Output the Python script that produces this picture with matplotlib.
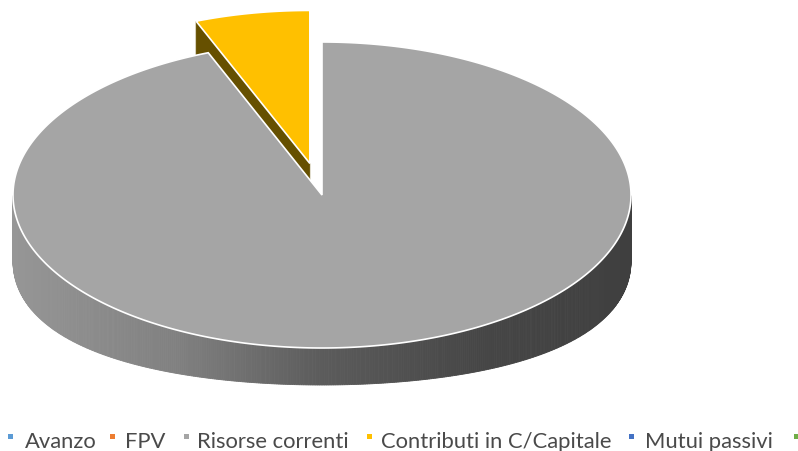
import numpy as np
import matplotlib.pyplot as plt
from matplotlib.patches import Polygon
from matplotlib import font_manager

categorie = ["Avanzo", "FPV", "Risorse correnti", "Contributi in C/Capitale", "Mutui passivi", ""]
valori = [0, 0, 94.0, 6.0, 0, 0]
colori = ["#5B9BD5", "#ED7D31", "#A5A5A5", "#FFC000", "#4472C4", "#70AD47"]
scuri = ["#2E4E6B", "#773E18", "#A5A5A5", "#665000", "#223962", "#385723"]
esploso = [0, 0, 0, 0.21, 0, 0]

nomi = set(f.name for f in font_manager.fontManager.ttflist)
font = "Lato" if "Lato" in nomi else "DejaVu Sans"

W, H = 798, 452
cx, cy = 322, 196
rx, ry = 309, 153
d_front, d_side = 37, 66

fig = plt.figure(figsize=(W / 100, H / 100), dpi=100)
ax = fig.add_axes([0, 0, 1, 1])
ax.set_xlim(0, W)
ax.set_ylim(H, 0)
ax.axis("off")


def top(t, off):
    return np.column_stack([cx + off[0] + rx * np.cos(t), cy + off[1] - ry * np.sin(t)])


def depth(t):
    return d_front + (d_side - d_front) * np.cos(t) ** 2


# gradient of the outer side, light on the left, dark on the right
gx = [15, 180, 320, 480, 632]
gv = [150, 128, 92, 70, 63]


def side_col(x):
    v = np.interp(x, gx, gv) / 255
    return (v, v, v)


tot = sum(valori)
slices = []
cum = 0
for i, v in enumerate(valori):
    # excel starts at 12 o'clock and goes clockwise
    a1 = np.radians(90 - 360 * cum / tot)
    a0 = np.radians(90 - 360 * (cum + v) / tot)
    cum += v
    if v > 0:
        slices.append((i, a0, a1))

# back slices first
slices.sort(key=lambda s: -np.sin((s[1] + s[2]) / 2))

for i, a0, a1 in slices:
    m = (a0 + a1) / 2
    off = (rx * esploso[i] * np.cos(m), -ry * esploso[i] * np.sin(m))
    c = np.array([cx + off[0], cy + off[1]])

    # outer side, only the front half is visible
    t = np.linspace(a0, a1, 800)
    front = np.sin(t) < 0
    if front.any():
        tf = t[front]
        pt = top(tf, off)
        pb = pt.copy()
        pb[:, 1] += depth(tf)
        for k in range(len(tf) - 1):
            col = side_col((pt[k, 0] + pt[k + 1, 0]) / 2)
            ax.add_patch(Polygon([pt[k], pt[k + 1], pb[k + 1], pb[k]],
                                 closed=True, fc=col, ec=col, lw=0.6))

    # radial cut faces
    for a, vis in [(a1, np.cos(a1) < -1e-6), (a0, np.cos(a0) > 1e-6)]:
        if vis:
            e = top(np.array([a]), off)[0]
            d = depth(a)
            ax.add_patch(Polygon([c, e, e + [0, d], c + [0, d]], closed=True,
                                 fc=scuri[i], ec=scuri[i], lw=0.5))

    # top face
    t = np.linspace(a0, a1, 600)
    pts = np.vstack([c, top(t, off)])
    ax.add_patch(Polygon(pts, closed=True, fc=colori[i], ec="white", lw=1.2,
                         joinstyle="miter"))

# legend
mx = [10.5, 112, 186, 369, 631, 796]
tx = [25, 125, 197, 381, 645, 806]
ly = 437
for k in range(len(categorie)):
    ax.add_patch(plt.Rectangle((mx[k] - 2.5, ly - 2.5), 5, 5, fc=colori[k], ec="none"))
    if categorie[k]:
        ax.text(tx[k], 448.5, categorie[k], fontsize=15.8, family=font,
                color="#4a4a4a", va="baseline", ha="left")

fig.savefig("out.png", dpi=100)
